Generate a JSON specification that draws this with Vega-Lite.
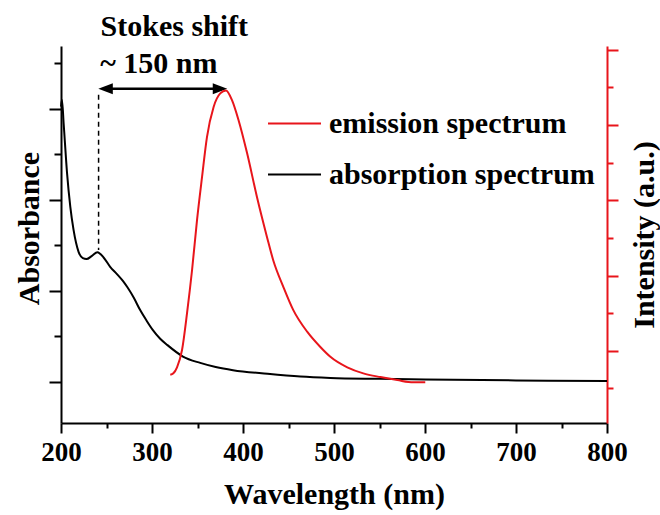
{
  "$schema": "https://vega.github.io/schema/vega-lite/v6.json",
  "width": 546,
  "height": 377,
  "autosize": "none",
  "padding": {"left": 61, "top": 46, "right": 53, "bottom": 92},
  "background": "white",
  "config": {
    "view": {"stroke": null},
    "font": "Liberation Serif",
    "axis": {
      "grid": false,
      "domainColor": "black",
      "domainWidth": 2,
      "tickWidth": 2,
      "tickColor": "black",
      "labelFont": "Liberation Serif",
      "labelFontWeight": "bold",
      "labelFontSize": 27,
      "labelColor": "black",
      "titleFont": "Liberation Serif",
      "titleFontWeight": "bold",
      "titleFontSize": 30,
      "titleColor": "black"
    }
  },
  "datasets": {
    "absorption": [
      {"wavelength": 200, "value": 6.05, "series": "absorption spectrum"},
      {"wavelength": 201, "value": 6.2, "series": "absorption spectrum"},
      {"wavelength": 203, "value": 5.65, "series": "absorption spectrum"},
      {"wavelength": 206.6, "value": 4.6, "series": "absorption spectrum"},
      {"wavelength": 210.2, "value": 3.85, "series": "absorption spectrum"},
      {"wavelength": 213.8, "value": 3.34, "series": "absorption spectrum"},
      {"wavelength": 219.3, "value": 2.86, "series": "absorption spectrum"},
      {"wavelength": 224, "value": 2.72, "series": "absorption spectrum"},
      {"wavelength": 228, "value": 2.7, "series": "absorption spectrum"},
      {"wavelength": 234, "value": 2.77, "series": "absorption spectrum"},
      {"wavelength": 240, "value": 2.85, "series": "absorption spectrum"},
      {"wavelength": 247, "value": 2.73, "series": "absorption spectrum"},
      {"wavelength": 254, "value": 2.53, "series": "absorption spectrum"},
      {"wavelength": 261.5, "value": 2.37, "series": "absorption spectrum"},
      {"wavelength": 268, "value": 2.22, "series": "absorption spectrum"},
      {"wavelength": 273, "value": 2.08, "series": "absorption spectrum"},
      {"wavelength": 280, "value": 1.85, "series": "absorption spectrum"},
      {"wavelength": 287, "value": 1.58, "series": "absorption spectrum"},
      {"wavelength": 294, "value": 1.35, "series": "absorption spectrum"},
      {"wavelength": 301, "value": 1.14, "series": "absorption spectrum"},
      {"wavelength": 309, "value": 0.95, "series": "absorption spectrum"},
      {"wavelength": 317, "value": 0.81, "series": "absorption spectrum"},
      {"wavelength": 334, "value": 0.56, "series": "absorption spectrum"},
      {"wavelength": 353, "value": 0.42, "series": "absorption spectrum"},
      {"wavelength": 370, "value": 0.33, "series": "absorption spectrum"},
      {"wavelength": 389, "value": 0.26, "series": "absorption spectrum"},
      {"wavelength": 427, "value": 0.18, "series": "absorption spectrum"},
      {"wavelength": 463, "value": 0.12, "series": "absorption spectrum"},
      {"wavelength": 496, "value": 0.09, "series": "absorption spectrum"},
      {"wavelength": 550, "value": 0.07, "series": "absorption spectrum"},
      {"wavelength": 600, "value": 0.055, "series": "absorption spectrum"},
      {"wavelength": 700, "value": 0.035, "series": "absorption spectrum"},
      {"wavelength": 800, "value": 0.02, "series": "absorption spectrum"}
    ],
    "emission": [
      {"wavelength": 320.1, "value": 0.68, "series": "emission spectrum"},
      {"wavelength": 323.5, "value": 0.7, "series": "emission spectrum"},
      {"wavelength": 327.5, "value": 0.78, "series": "emission spectrum"},
      {"wavelength": 333, "value": 1.01, "series": "emission spectrum"},
      {"wavelength": 338.5, "value": 1.5, "series": "emission spectrum"},
      {"wavelength": 344, "value": 2.07, "series": "emission spectrum"},
      {"wavelength": 349.5, "value": 2.74, "series": "emission spectrum"},
      {"wavelength": 355, "value": 3.31, "series": "emission spectrum"},
      {"wavelength": 360.4, "value": 3.84, "series": "emission spectrum"},
      {"wavelength": 367.7, "value": 4.24, "series": "emission spectrum"},
      {"wavelength": 375, "value": 4.42, "series": "emission spectrum"},
      {"wavelength": 381.3, "value": 4.46, "series": "emission spectrum"},
      {"wavelength": 387.9, "value": 4.33, "series": "emission spectrum"},
      {"wavelength": 395.2, "value": 4.06, "series": "emission spectrum"},
      {"wavelength": 404.4, "value": 3.63, "series": "emission spectrum"},
      {"wavelength": 415.4, "value": 3.04, "series": "emission spectrum"},
      {"wavelength": 426.4, "value": 2.51, "series": "emission spectrum"},
      {"wavelength": 433.3, "value": 2.2, "series": "emission spectrum"},
      {"wavelength": 444.3, "value": 1.85, "series": "emission spectrum"},
      {"wavelength": 455.3, "value": 1.54, "series": "emission spectrum"},
      {"wavelength": 470.7, "value": 1.25, "series": "emission spectrum"},
      {"wavelength": 485, "value": 1.05, "series": "emission spectrum"},
      {"wavelength": 496, "value": 0.92, "series": "emission spectrum"},
      {"wavelength": 514.6, "value": 0.78, "series": "emission spectrum"},
      {"wavelength": 532.2, "value": 0.7, "series": "emission spectrum"},
      {"wavelength": 551, "value": 0.65, "series": "emission spectrum"},
      {"wavelength": 569.6, "value": 0.61, "series": "emission spectrum"},
      {"wavelength": 587.2, "value": 0.58, "series": "emission spectrum"},
      {"wavelength": 600.3, "value": 0.58, "series": "emission spectrum"}
    ]
  },
  "encoding": {
    "x": {
      "field": "wavelength",
      "type": "quantitative",
      "scale": {"domain": [200, 800], "nice": false, "zero": false},
      "axis": {
        "title": "Wavelength (nm)",
        "values": [200, 250, 300, 350, 400, 450, 500, 550, 600, 650, 700, 750, 800],
        "labelExpr": "datum.value % 100 === 0 ? datum.label : ''",
        "tickSize": {"condition": {"test": "datum.value % 100 === 0", "value": 10}, "value": 5},
        "labelPadding": 6,
        "labelOverlap": false,
        "labelFlush": false,
        "titlePadding": 14
      }
    }
  },
  "layer": [
    {
      "encoding": {
        "y": {
          "field": "value",
          "type": "quantitative",
          "scale": {"domain": [-0.9, 7.38], "nice": false, "zero": false},
          "axis": {
            "title": "Absorbance",
            "orient": "left",
            "labels": false,
            "values": [0, 1, 2, 3, 4, 5, 6, 7],
            "tickSize": {"condition": {"test": "datum.value % 2 === 0", "value": 12}, "value": 7},
            "titlePadding": 4,
            "titleY": 182
          }
        }
      },
      "layer": [
        {
          "data": {"name": "absorption"},
          "mark": {"type": "line", "interpolate": "monotone", "strokeWidth": 2},
          "encoding": {
            "color": {
              "field": "series",
              "type": "nominal",
              "scale": {"domain": ["emission spectrum", "absorption spectrum"], "range": ["#e8151b", "#000000"]},
              "legend": {
                "orient": "none",
                "legendX": 206,
                "legendY": 50,
                "title": null,
                "symbolType": "stroke",
                "symbolSize": 2809,
                "symbolStrokeWidth": 2,
                "labelFontSize": 30,
                "labelFont": "Liberation Serif",
                "labelFontWeight": "bold",
                "labelColor": "black",
                "labelOffset": 7,
                "rowPadding": 8,
                "padding": 0,
                "labelLimit": 500
              }
            }
          }
        },
        {
          "data": {"values": [{"wavelength": 241.3, "value": 6.31, "value2": 2.9}]},
          "mark": {"type": "rule", "strokeDash": [5, 4], "strokeWidth": 1.5, "color": "black"},
          "encoding": {"y2": {"field": "value2"}}
        },
        {
          "data": {"values": [{"wavelength": 246, "wavelength2": 378, "value": 6.44}]},
          "mark": {"type": "rule", "strokeWidth": 2.5, "color": "black"},
          "encoding": {"x2": {"field": "wavelength2"}}
        },
        {
          "data": {"values": [{"wavelength": 249, "value": 6.44}]},
          "mark": {"type": "point", "shape": "M-1,0L1,-0.75L1,0.75Z", "size": 210, "filled": true, "color": "black", "opacity": 1}
        },
        {
          "data": {"values": [{"wavelength": 374.7, "value": 6.44}]},
          "mark": {"type": "point", "shape": "M1,0L-1,-0.75L-1,0.75Z", "size": 210, "filled": true, "color": "black", "opacity": 1}
        },
        {
          "data": {"values": [{"wavelength": 324.5, "value": 7.6, "label": "Stokes shift"}, {"wavelength": 307.5, "value": 6.79, "label": "~ 150 nm"}]},
          "mark": {"type": "text", "font": "Liberation Serif", "fontWeight": "bold", "fontSize": 30, "align": "center", "baseline": "alphabetic", "color": "black"},
          "encoding": {"text": {"field": "label"}}
        }
      ]
    },
    {
      "data": {"name": "emission"},
      "mark": {"type": "line", "interpolate": "monotone", "strokeWidth": 2},
      "encoding": {
        "y": {
          "field": "value",
          "type": "quantitative",
          "scale": {"domain": [0.04, 5.05], "nice": false, "zero": false},
          "axis": {
            "title": "Intensity (a.u.)",
            "orient": "right",
            "labels": false,
            "values": [0, 0.5, 1, 1.5, 2, 2.5, 3, 3.5, 4, 4.5, 5],
            "tickSize": {"condition": {"test": "datum.value % 1 === 0", "value": 11}, "value": 6},
            "domainColor": "#e8151b",
            "tickColor": "#e8151b",
            "titleAngle": 270,
            "titleBaseline": "top",
            "titlePadding": 10
          }
        },
        "color": {"field": "series", "type": "nominal"}
      }
    }
  ],
  "resolve": {"scale": {"y": "independent"}}
}
